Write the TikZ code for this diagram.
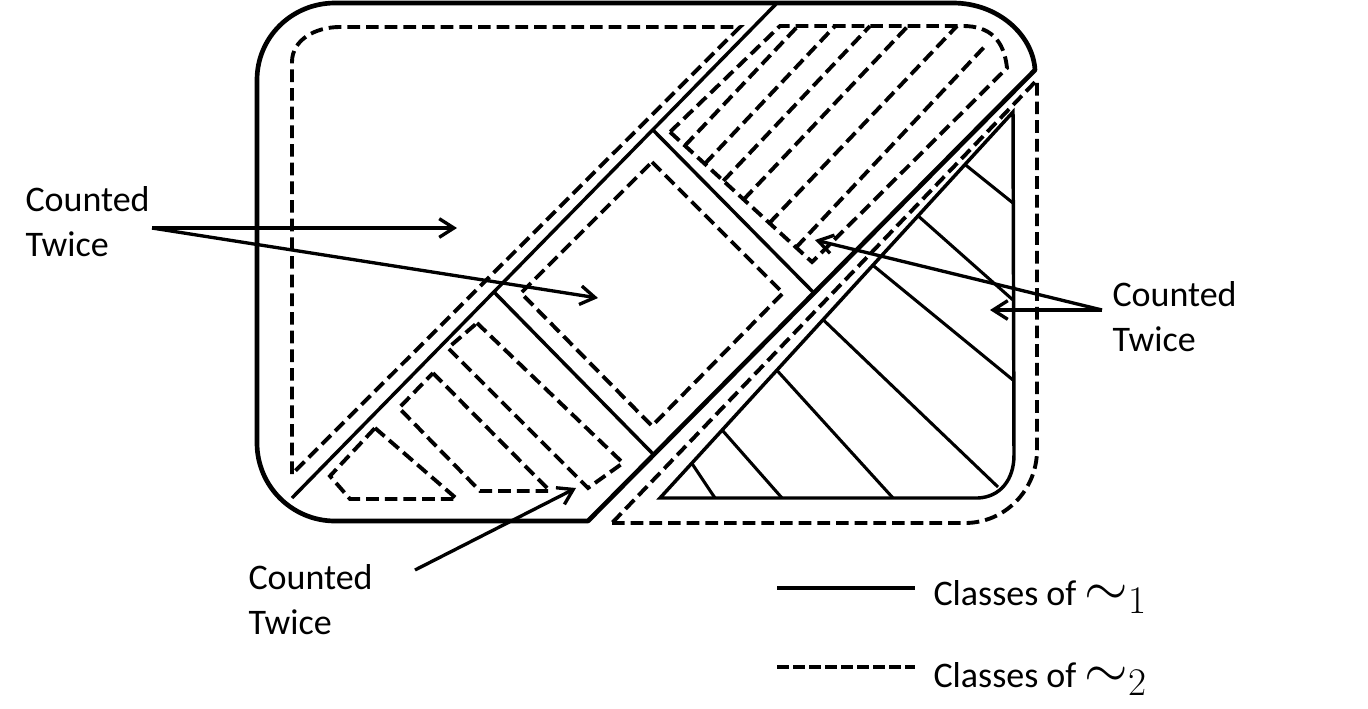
\documentclass[tikz,border=0pt]{standalone}
\usepackage{fix-cm}
\usepackage{fontspec}
\setmainfont{Carlito}
\usetikzlibrary{arrows.meta,calc}

\tikzset{every picture/.style={line width=0.75pt}}
\tikzset{
  classone/.style={line width=2.6pt},
  classtwo/.style={line width=2.9pt,dash pattern=on 9.5pt off 4.5pt},
  outerone/.style={line width=3.5pt,line join=round},
  hatchone/.style={line width=2.3pt},
  pointer/.style={line width=2.5pt,-{Straight Barb[length=11pt,width=14pt]}},
  twicelabel/.style={anchor=north west,inner sep=0pt,align=left,font=\fontsize{27}{33.75}\selectfont},
  keylabel/.style={anchor=base west,inner sep=0pt,font=\fontsize{27}{33.75}\selectfont},
}

\begin{document}
\begin{tikzpicture}[x=0.75pt,y=0.75pt,yscale=-1,xscale=1]
\useasboundingbox (0,0) rectangle (1368,708);

%Shape: outer class boundary (solid)
\draw[outerone] (588,521) -- (335,521) .. controls (292,521) and (257,486) .. (257,443) -- (257,80) .. controls (257,37) and (292,3) .. (335,3) -- (953,3) .. controls (998,3) and (1033,35) .. (1035,70) -- cycle ;
%Shape: right class (dashed)
\draw[classtwo] (612,523) -- (965,523) .. controls (1005,523) and (1037,490) .. (1037,450) -- (1037,80) -- cycle ;
%Shape: top left class (dashed)
\draw[classtwo] (292,474) -- (292,62) .. controls (292,40) and (315,27) .. (340,27) -- (740,27) -- cycle ;

%Straight Lines: cuts of the band
\draw[classone] (292,498) -- (777,3) ;
\draw[classone] (494,292) -- (654,455) ;
\draw[classone] (653,130) -- (813,292) ;

%Shape: middle square (dashed)
\draw[classtwo] (652,162) -- (783,293) -- (652,426) -- (521,293) -- cycle ;

%Shape: top right cell (dashed) with stripes
\coordinate (cellL) at (670,132) ;
\coordinate (cellB) at (812,262) ;
\draw[classtwo] (cellL) -- (cellB) -- (1007,68) .. controls (1004,40) and (990,26) .. (963,26) -- (780,26) -- cycle ;
\foreach \t/\top in {0.105/{(798,26)},0.245/{(835,26)},0.376/{(870,26)},0.519/{(908,26)},0.70/{(957,26)},0.888/{(987,44)}}
  \draw[classtwo] ($(cellL)!\t!(cellB)$) -- \top ;

%Shapes: bottom left cell (dashed)
\draw[classtwo] (375,428) -- (457,499) -- (350,499) -- (330,476) -- cycle ;
\draw[classtwo] (433,373) -- (550,491) -- (480,491) -- (399,408) -- cycle ;
\draw[classtwo] (477,323) -- (623,463) -- (588,488) -- (448,348) -- cycle ;

%Shape: hatched triangle (solid)
\coordinate (triA) at (660,498) ;
\coordinate (triB) at (1013,112) ;
\draw[classone] (triA) -- (triB) -- (1014,455) .. controls (1014,480) and (1000,497) .. (978,498) -- cycle ;
\foreach \u/\stop in {0.09/{(715,498)},0.176/{(782,498)},0.331/{(893,498)},0.462/{(998,487)},0.603/{(1013,380)},0.731/{(1013,300)},0.864/{(1013,203)}}
  \draw[hatchone] ($(triA)!\u!(triB)$) -- \stop ;

% Text Node
\node[twicelabel] (twiceleft) at (25,186) {Counted\\Twice};
% Text Node
\node[twicelabel] (twiceright) at (1112,281) {Counted\\Twice};
% Text Node
\node[twicelabel] (twicebottom) at (248,564) {Counted\\Twice};

%Arrows
\coordinate (fromleft) at (152,228) ;
\coordinate (tipleftA) at (457,228) ;
\coordinate (tipleftB) at (598,298) ;
\draw[pointer] (fromleft) -- (tipleftA) ;
\draw[pointer] (fromleft) -- (tipleftB) ;
\coordinate (fromright) at (1102,310) ;
\coordinate (triprightA) at (815,240) ;
\coordinate (triprightB) at (990,310) ;
\draw[pointer] (fromright) -- (triprightA) ;
\draw[pointer] (fromright) -- (triprightB) ;
\coordinate (frombottom) at (415,570) ;
\coordinate (tipbottom) at (576,488) ;
\draw[pointer] (frombottom) -- (tipbottom) ;

%Legend
\coordinate (keyoneA) at (777,588) ;
\coordinate (keyoneB) at (915,588) ;
\coordinate (keytwoA) at (777,667) ;
\coordinate (keytwoB) at (915,667) ;
\draw[classone,line width=3pt] (keyoneA) -- (keyoneB) ;
\draw[line width=3pt,dash pattern=on 9pt off 3pt] (keytwoA) -- (keytwoB) ;
\node[keylabel] (keyone) at (933,605) {Classes of {\fontsize{42}{42}\selectfont$\sim_1$}};
\node[keylabel] (keytwo) at (933,687) {Classes of {\fontsize{42}{42}\selectfont$\sim_2$}};

\end{tikzpicture}
\end{document}
